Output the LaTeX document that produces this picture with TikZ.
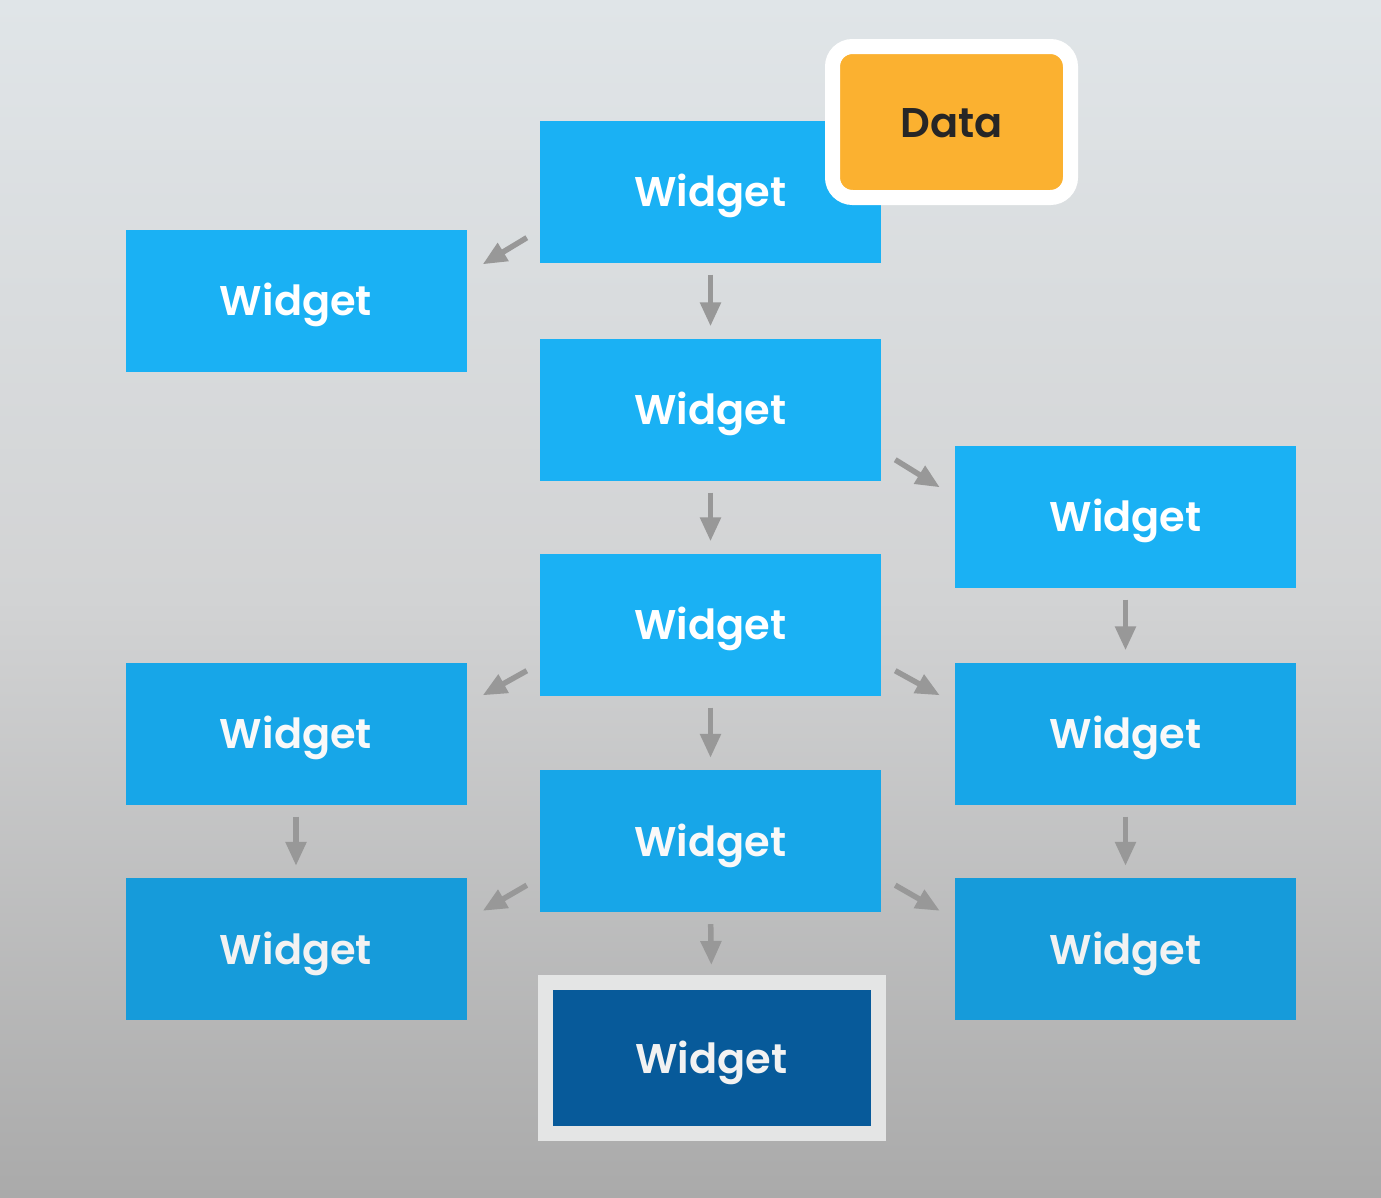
\documentclass[tikz,border=0pt]{standalone}
\usepackage{fontspec}
\setmainfont{Poppins}[BoldFont={* SemiBold}]
\usetikzlibrary{arrows.meta,calc}
\definecolor{bgtop}{HTML}{E0E5E8}
\definecolor{bgmid}{HTML}{D2D3D4}
\definecolor{bgbot}{HTML}{AAAAAA}
\definecolor{wblue}{HTML}{1AB1F4}
\definecolor{wblueb}{HTML}{17A6E8}
\definecolor{wbluec}{HTML}{169BDA}
\definecolor{wdark}{HTML}{075A9A}
\definecolor{dorange}{HTML}{FBB130}
\definecolor{arrowgray}{HTML}{989898}
\definecolor{framegray}{HTML}{E4E5E5}
\tikzset{
  wfont/.style={font=\fontsize{41.5}{41.5}\selectfont\bfseries, text height=34pt, text depth=4pt},
  widget/.style={rectangle, fill=wblue, minimum width=341pt, minimum height=142pt, inner sep=0pt,
    text=white, wfont},
  widgetb/.style={widget, fill=wblueb, text=white!95!gray},
  widgetc/.style={widget, fill=wbluec, text=white!90!gray},
  conn/.style={draw=arrowgray, line width=5.5pt, -{Triangle[length=24pt,width=20pt]}},
  down/.style={conn, shorten <=12pt, shorten >=12pt},
}
\begin{document}
\begin{tikzpicture}[x=1pt,y=-1pt]
\shade[top color=bgtop, bottom color=bgbot, middle color=bgmid] (0,0) rectangle (1381,1197);
\useasboundingbox (0,0) rectangle (1381,1197);

\node[widget] (top) at (710.5,191.5) {Widget};
\node[widget] (l1) at (296,300.5) {Widget};
\node[widget] (c2) at (710.5,409.5) {Widget};
\node[widget] (r1) at (1125.5,516.5) {Widget};
\node[widget] (c3) at (710.5,624.5) {Widget};
\node[widgetb] (l2) at (296,733.5) {Widget};
\node[widgetb] (r2) at (1125.5,733.5) {Widget};
\node[widgetb] (c4) at (710.5,841) {Widget};
\node[widgetc] (l3) at (296,949) {Widget};
\node[widgetc] (r3) at (1125.5,949) {Widget};
\node[rectangle, fill=wdark, draw=framegray, line width=15pt, minimum width=333pt, minimum height=151pt,
  inner sep=0pt, text=white!90!gray, wfont] (bot) at (711.5,1058) {Widget};

\node[rectangle, rounded corners=20pt, fill=dorange, draw=white, line width=15pt, minimum width=238pt,
  minimum height=151pt, inner sep=0pt, text=black!85, wfont] (data) at (951.5,122) {Data};

% vertical arrows
\draw[down] (top.south) -- (c2.north);
\draw[down] (c2.south) -- (c3.north);
\draw[down] (c3.south) -- (c4.north);
\draw[conn, shorten <=12pt, shorten >=10pt] (c4.south) -- (bot.north);
\draw[down] (r1.south) -- (r2.north);
\draw[down] (r2.south) -- (r3.north);
\draw[down] (l2.south) -- (l3.north);

% diagonal arrows
\draw[conn] ($(top.south west)+(-13,-25)$) -- ($(l1.north east)+(16,35)$);
\draw[conn] ($(c2.south east)+(14,-21)$) -- ($(r1.north west)+(-15,42)$);
\draw[conn] ($(c3.south west)+(-13,-25)$) -- ($(l2.north east)+(16,33)$);
\draw[conn] ($(c3.south east)+(14,-25)$) -- ($(r2.north west)+(-15,33)$);
\draw[conn] ($(c4.south west)+(-13,-27)$) -- ($(l3.north east)+(16,33)$);
\draw[conn] ($(c4.south east)+(14,-27)$) -- ($(r3.north west)+(-15,33)$);
\end{tikzpicture}
\end{document}
